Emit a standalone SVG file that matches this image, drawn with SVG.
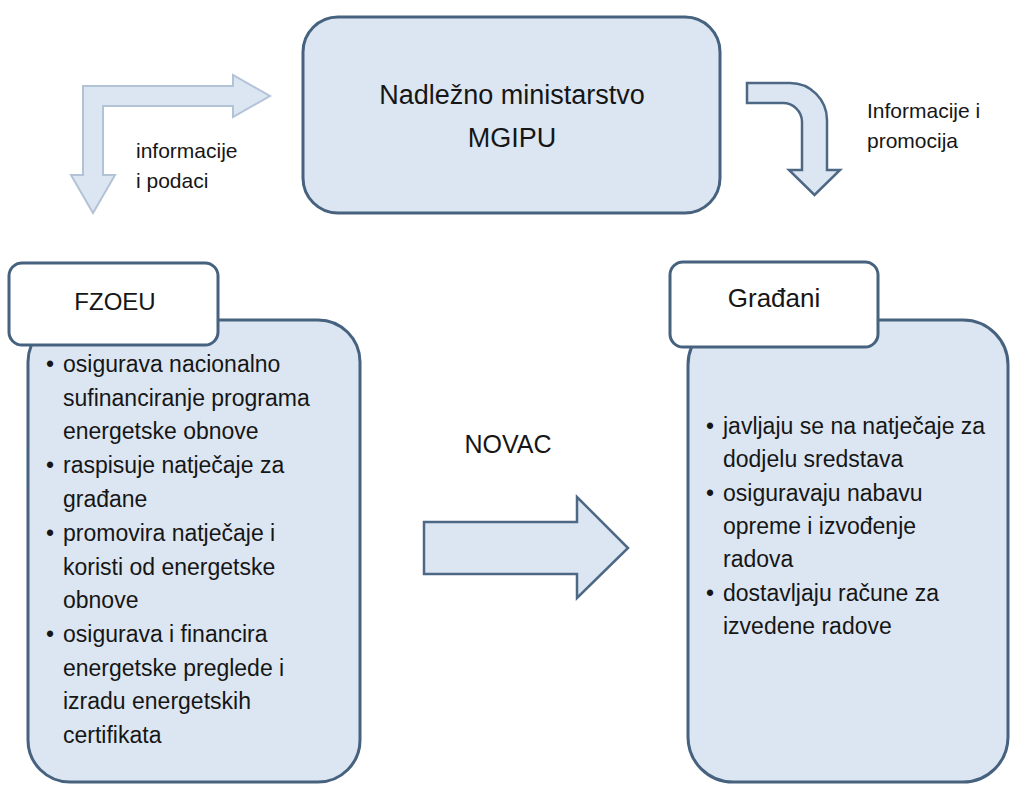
<svg xmlns="http://www.w3.org/2000/svg" width="1011" height="785" viewBox="0 0 1011 785">
<style>
.box{fill:#dce6f2;stroke:#46627f;stroke-width:3}
.hdr{fill:#ffffff;stroke:#46627f;stroke-width:3}
.arr{fill:#dce6f2;stroke:#4d6885;stroke-width:2.5;stroke-linejoin:miter}
.arrl{fill:#dce6f2;stroke:#b3c3d6;stroke-width:2;stroke-linejoin:miter}
text{font-family:"Liberation Sans",Arial,sans-serif;fill:#161616}
.t{font-size:23px}
.big{font-size:27px}
.lbl{font-size:21px}
</style>
<rect width="1011" height="785" fill="#ffffff"/>
<g id="connectors">
<polygon class="arrl" points="83,86 233,86 233,75 270,96 233,117 233,106 103,106 103,175 115,175 93,213 71,175 83,175"/>
<path class="arr" d="M747,83 H790 A37,37 0 0 1 827,120 V170 H840 L814.5,195 L789,170 H802 V122 A19,19 0 0 0 783,103 H747 Z"/>
<polygon class="arr" points="424,522 577,522 577,497 628,548 577,598 577,574 424,574"/>
<text class="lbl" x="136" y="158">informacije</text>
<text class="lbl" x="136" y="188">i podaci</text>
<text class="lbl" x="867" y="118">Informacije i</text>
<text class="lbl" x="867" y="148">promocija</text>
<text x="508" y="453" text-anchor="middle" style="font-size:25px">NOVAC</text>
</g>
<g id="mgipu">
<rect class="box" x="303" y="17" width="417" height="196" rx="35"/>
<text class="big" x="512" y="104" text-anchor="middle">Nadležno ministarstvo</text>
<text class="big" x="512" y="147" text-anchor="middle">MGIPU</text>
</g>
<g id="fzoeu">
<rect class="box" x="28" y="320" width="332" height="462" rx="42"/>
<rect class="hdr" x="9" y="263" width="209" height="82" rx="13"/>
<text x="115" y="310" text-anchor="middle" style="font-size:24px">FZOEU</text>
<g class="t">
<text x="46" y="372">•</text><text x="63" y="372">osigurava nacionalno</text>
<text x="63" y="405.5">sufinanciranje programa</text>
<text x="63" y="439">energetske obnove</text>
<text x="46" y="473">•</text><text x="63" y="473">raspisuje natječaje za</text>
<text x="63" y="506.5">građane</text>
<text x="46" y="541">•</text><text x="63" y="541">promovira natječaje i</text>
<text x="63" y="574.5">koristi od energetske</text>
<text x="63" y="608">obnove</text>
<text x="46" y="642">•</text><text x="63" y="642">osigurava i financira</text>
<text x="63" y="675.5">energetske preglede i</text>
<text x="63" y="709">izradu energetskih</text>
<text x="63" y="742.5">certifikata</text>
</g>
</g>
<g id="gradjani">
<rect class="box" x="688" y="320" width="320" height="462" rx="45"/>
<rect class="hdr" x="670" y="262" width="208" height="85" rx="13"/>
<text x="774" y="307" text-anchor="middle" style="font-size:26px">Građani</text>
<g class="t">
<text x="706" y="434">•</text><text x="723" y="434">javljaju se na natječaje za</text>
<text x="723" y="467">dodjelu sredstava</text>
<text x="706" y="501">•</text><text x="723" y="501">osiguravaju nabavu</text>
<text x="723" y="534">opreme i izvođenje</text>
<text x="723" y="567">radova</text>
<text x="706" y="601">•</text><text x="723" y="601">dostavljaju račune za</text>
<text x="723" y="634">izvedene radove</text>
</g>
</g>
</svg>
